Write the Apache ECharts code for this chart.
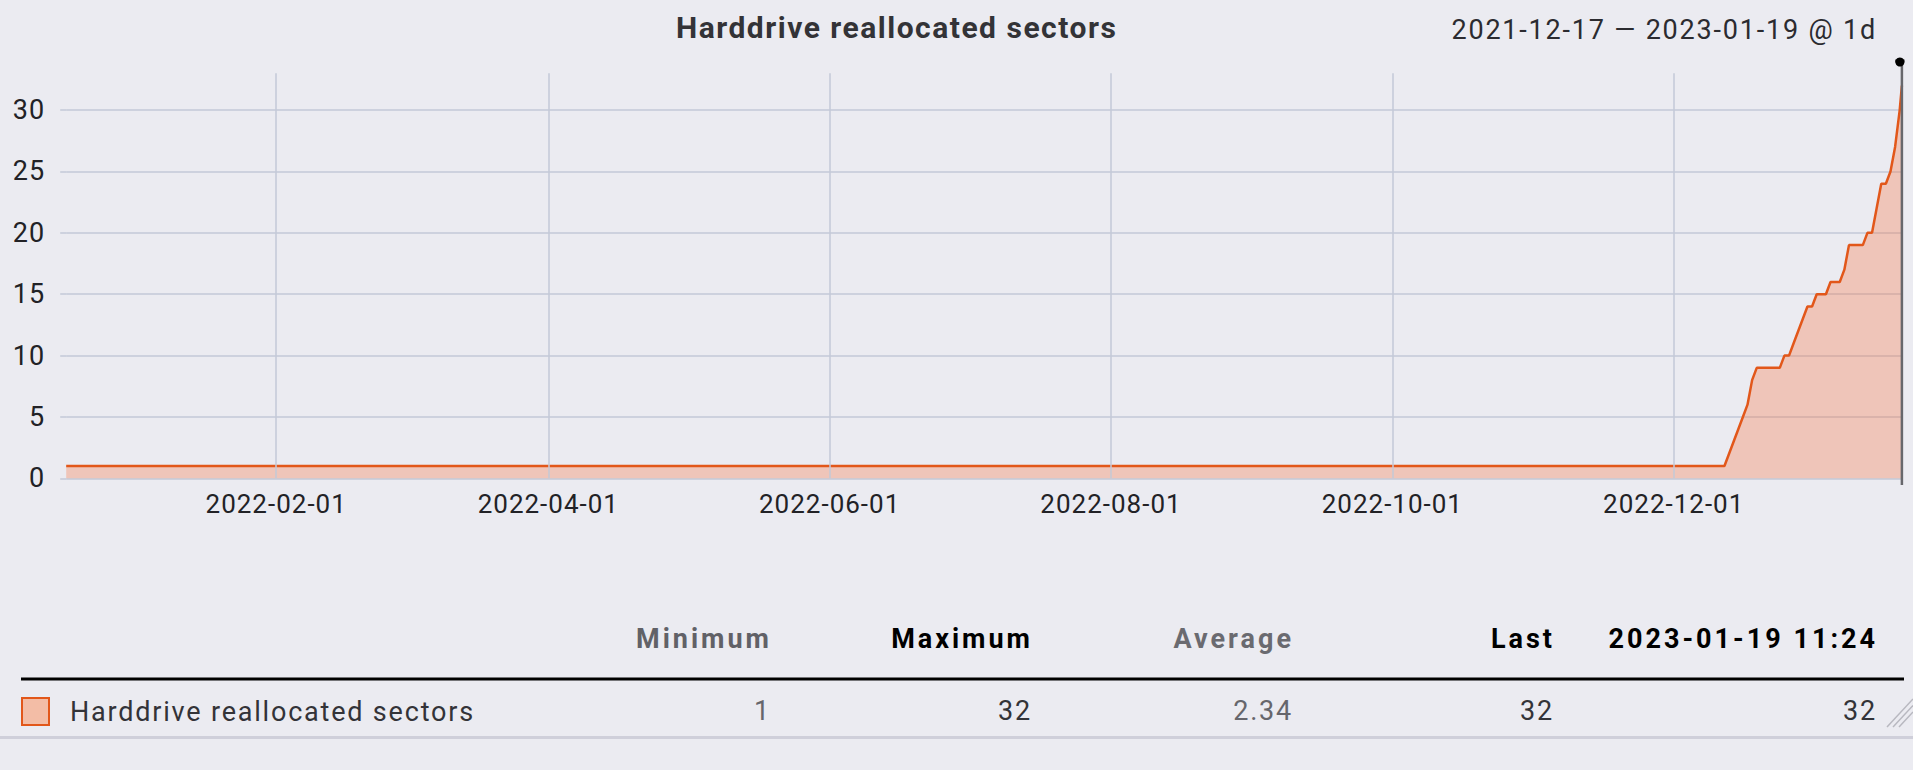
<!DOCTYPE html>
<html>
<head>
<meta charset="utf-8">
<script src="https://cdn.jsdelivr.net/npm/echarts@6/dist/echarts.min.js"></script>
<style>
html,body{margin:0;padding:0;background:#ebebf1;overflow:hidden;}
#c{width:1913px;height:770px;}
#c svg text{letter-spacing:1px;}
#c svg text[style*="Lato"]{letter-spacing:3px;}
#c svg text[style*="Inter"]{letter-spacing:1.5px;}
#c svg text[style*="Arial"]{letter-spacing:1.8px;}
</style>
</head>
<body>
<div id="c"></div>
<script>
// ---- data ----
const chartTitle = 'Harddrive reallocated sectors';
const rangeLabel = '2021-12-17 \u2014 2023-01-19 @ 1d';
const seriesName = 'Harddrive reallocated sectors';
const axisStart = '2021-12-17 11:24';
const axisEnd = '2023-01-19 11:24';
const dates = [
  '2021-12-17 11:24', '2022-12-12', '2022-12-13', '2022-12-14', '2022-12-15', '2022-12-16',
  '2022-12-17', '2022-12-18', '2022-12-19', '2022-12-20', '2022-12-21', '2022-12-22',
  '2022-12-23', '2022-12-24', '2022-12-25', '2022-12-26', '2022-12-27', '2022-12-28',
  '2022-12-29', '2022-12-30', '2022-12-31', '2023-01-01', '2023-01-02', '2023-01-03',
  '2023-01-04', '2023-01-05', '2023-01-06', '2023-01-07', '2023-01-08', '2023-01-09',
  '2023-01-10', '2023-01-11', '2023-01-12', '2023-01-13', '2023-01-14', '2023-01-15',
  '2023-01-16', '2023-01-17', '2023-01-18', '2023-01-19', '2023-01-19 11:24'
];
const values = [
  1, 1, 2, 3, 4, 5,
  6, 8, 9, 9, 9, 9,
  9, 9, 10, 10, 11, 12,
  13, 14, 14, 15, 15, 15,
  16, 16, 16, 17, 19, 19,
  19, 19, 20, 20, 22, 24,
  24, 25, 27, 30, 32
];
const xTicks = ['2022-02-01', '2022-04-01', '2022-06-01', '2022-08-01', '2022-10-01', '2022-12-01'];
const yTicks = [0, 5, 10, 15, 20, 25, 30];
const yMax = 33;
const statHeaders = ['Minimum', 'Maximum', 'Average', 'Last', '2023-01-19 11:24'];
const statValues = ['1', '32', '2.34', '32', '32'];

// ---- styling ----
const gridColor = '#c3c9d7';
const lineColor = '#e2571a';
const colRight = [769, 1030, 1291, 1552, 1875];
const headColors = ['#616167', '#000000', '#6a6a70', '#000000', '#000000'];
const valColors = ['#66666c', '#333338', '#66666c', '#333338', '#333338'];

const ts = s => +echarts.time.parse(s);
const chart = echarts.init(document.getElementById('c'), null, {renderer: 'svg', width: 1913, height: 770});

const seriesData = dates.map((d, i) => [ts(d), values[i]]);
const tsTicks = xTicks.map(ts);
const pad2 = n => (n < 10 ? '0' : '') + n;
const fmtDate = v => { const d = new Date(v); return d.getFullYear() + '-' + pad2(d.getMonth() + 1) + '-' + pad2(d.getDate()); };

const graphics = [];
statHeaders.forEach((h, i) => {
  graphics.push({
    type: 'text', id: 'h' + i, x: colRight[i] + 3, y: 639, silent: true,
    style: {text: h, fill: headColors[i], fontSize: 27, fontWeight: 'bold', fontFamily: 'Roboto, Lato',
      textAlign: 'right', textVerticalAlign: 'middle', align: 'right', verticalAlign: 'middle'}
  });
  graphics.push({
    type: 'text', id: 'v' + i, x: colRight[i] + 2, y: 711, silent: true,
    style: {text: statValues[i], fill: valColors[i], fontSize: 27, fontFamily: 'Roboto, Arial',
      textAlign: 'right', textVerticalAlign: 'middle', align: 'right', verticalAlign: 'middle'}
  });
});
graphics.push({type: 'line', id: 'hdrLine', silent: true, shape: {x1: 21, y1: 679, x2: 1904, y2: 679}, style: {stroke: '#000', lineWidth: 3}});
graphics.push({type: 'line', id: 'botLine', silent: true, shape: {x1: 0, y1: 737.5, x2: 1913, y2: 737.5}, style: {stroke: '#cfcfda', lineWidth: 3}});
graphics.push({
  type: 'text', id: 'range', x: 1877, y: 30, silent: true,
  style: {text: rangeLabel, fill: '#2b2b30', fontSize: 27, fontFamily: 'Roboto, Arial',
    textAlign: 'right', textVerticalAlign: 'middle', align: 'right', verticalAlign: 'middle'}
});
[[1887, 727, 1913, 699], [1893, 727, 1913, 705.5], [1899, 727, 1913, 712]].forEach((p, i) => {
  graphics.push({type: 'line', id: 'hatch' + i, silent: true, shape: {x1: p[0], y1: p[1], x2: p[2], y2: p[3]}, style: {stroke: '#b8b8c0', lineWidth: 1.5}});
});

chart.setOption({
  animation: false,
  backgroundColor: '#ebebf1',
  textStyle: {fontFamily: 'Roboto'},
  title: {
    text: chartTitle, left: 676, top: 12, padding: 0,
    textStyle: {fontSize: 30, fontWeight: 'bold', color: '#333337', fontFamily: 'Roboto, Inter'}
  },
  legend: {
    left: 21, top: 697, padding: 0, selectedMode: false,
    itemWidth: 27, itemHeight: 27,
    data: [{name: seriesName, icon: 'rect', itemStyle: {color: '#f3bda6', borderColor: lineColor, borderWidth: 2}}],
    textStyle: {fontSize: 27, color: '#333338', fontFamily: 'Roboto, Arial', padding: [0, 0, 0, 16]}
  },
  grid: {left: 66.2, right: 11.1, top: 73.3, bottom: 291.7, containLabel: false, outerBoundsMode: 'none'},
  xAxis: {
    type: 'value', min: ts(axisStart), max: ts(axisEnd),
    axisLine: {show: false}, axisTick: {show: false}, splitLine: {show: false},
    axisLabel: {
      customValues: tsTicks, fontSize: 26, color: '#222226', margin: 13, fontFamily: 'Roboto',
      formatter: v => fmtDate(v)
    }
  },
  yAxis: {
    type: 'value', min: 0, max: yMax, interval: 5,
    axisLine: {show: false},
    axisTick: {show: true, length: 6, customValues: yTicks, lineStyle: {color: gridColor, width: 1.5}},
    axisLabel: {customValues: yTicks, fontSize: 27, color: '#222226', margin: 21, fontFamily: 'Roboto'},
    splitLine: {show: true, lineStyle: {color: gridColor, width: 1.5}}
  },
  series: [
    {
      type: 'line', name: 'vgrid', data: [], silent: true, z: 1,
      markLine: {
        silent: true, symbol: ['none', 'none'], label: {show: false}, animation: false,
        lineStyle: {color: gridColor, width: 1.5, type: 'solid'},
        emphasis: {disabled: true},
        data: tsTicks.map(t => ({xAxis: t}))
      }
    },
    {
      type: 'line', name: seriesName, data: seriesData, z: 3,
      showSymbol: false, symbol: 'none', smooth: false,
      lineStyle: {color: lineColor, width: 2.5},
      itemStyle: {color: lineColor},
      areaStyle: {color: 'rgba(250,100,40,0.4)'},
      emphasis: {disabled: true}
    }
  ],
  graphic: {elements: graphics}
});

const endPt = chart.convertToPixel({gridIndex: 0}, [ts(axisEnd), 0]);
const ex = endPt[0];
chart.setOption({
  graphic: {elements: [
    {type: 'line', id: 'nowLine', silent: true, z: 10, shape: {x1: ex, y1: 62, x2: ex, y2: 485}, style: {stroke: '#67676c', lineWidth: 2.5}},
    {type: 'rect', id: 'nowCap', silent: true, z: 11, shape: {x: ex - 6.5, y: 59.5, width: 9, height: 3}, style: {fill: '#000'}},
    {type: 'circle', id: 'nowCap2', silent: true, z: 11, shape: {cx: ex - 2, cy: 62, r: 4.5}, style: {fill: '#000'}}
  ]}
});
</script>
</body>
</html>
